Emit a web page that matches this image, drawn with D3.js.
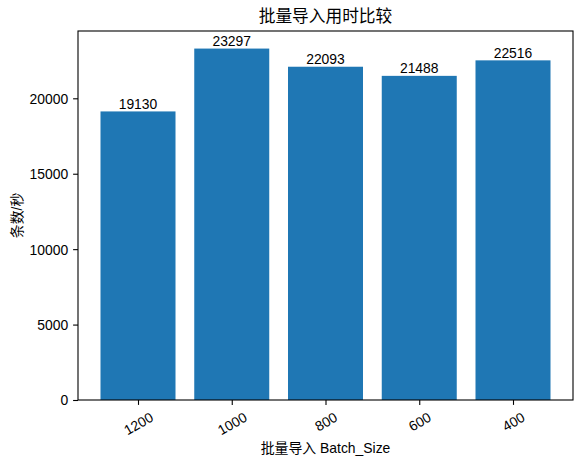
<!DOCTYPE html>
<html><head><meta charset="utf-8">
<script src="https://cdn.jsdelivr.net/npm/d3@7"></script>
<style>body{margin:0;background:#fff}svg{display:block}text{font-family:"Liberation Sans","Noto Sans CJK SC",sans-serif;fill:#000}</style>
</head><body><svg id="c" width="584" height="465"></svg>
<script>
const categories = ["1200","1000","800","600","400"];
const values = [19130,23297,22093,21488,22516];
const yTicks = [0,5000,10000,15000,20000];
const title = "批量导入用时比较";
const xTitle = "批量导入 Batch_Size";
const yTitle = "条数/秒";

const svg = d3.select("#c");
const L = 78, R = 573, T = 31, B = 400;
const fs = 13.9;
const x = d3.scaleLinear().domain([-0.64, 4.64]).range([L, R]);
const y = d3.scaleLinear().domain([0, d3.max(values) * 1.05]).range([B, T]);
const bw = 0.8;

svg.selectAll("rect.bar").data(values).join("rect").attr("class","bar")
  .attr("x",(d,i)=>x(i-bw/2)).attr("width",(d,i)=>x(i+bw/2)-x(i-bw/2))
  .attr("y",d=>y(d)).attr("height",d=>B-y(d)).attr("fill","#1f77b4");

svg.selectAll("text.val").data(values).join("text").attr("class","val")
  .attr("x",(d,i)=>x(i)).attr("y",d=>y(d)-2.5).attr("text-anchor","middle")
  .attr("font-size",fs).text(d=>d);

// frame
svg.append("rect").attr("x",L).attr("y",T).attr("width",R-L).attr("height",B-T)
  .attr("fill","none").attr("stroke","#000").attr("stroke-width",1.1);

// y axis
const yAxis = d3.axisLeft(y).tickValues(yTicks).tickSize(4.9).tickPadding(4.9).tickFormat(d3.format("d"));
const gy = svg.append("g").attr("transform",`translate(${L},0)`).call(yAxis);
gy.select(".domain").remove();
gy.selectAll("line").attr("stroke","#000").attr("stroke-width",1.1);
gy.selectAll("text").attr("font-size",fs).attr("font-family",null).attr("dy","0.35em");

// x axis
const xAxis = d3.axisBottom(x).tickValues(d3.range(categories.length)).tickSize(4.9).tickFormat(i=>categories[i]);
const gx = svg.append("g").attr("transform",`translate(0,${B})`).call(xAxis);
gx.select(".domain").remove();
gx.selectAll("line").attr("stroke","#000").attr("stroke-width",1.1);
gx.selectAll("text").attr("font-size",fs).attr("font-family",null).each(function(){
  const t = d3.select(this);
  t.attr("y",0).attr("dy",null).attr("text-anchor","middle").attr("dominant-baseline","central");
  const w = this.getComputedTextLength();
  const h = fs;
  const a = 30*Math.PI/180;
  const bh = w*Math.sin(a) + h*Math.cos(a);
  const cy = 4.9 + 4.9 + bh/2;
  t.attr("transform",`translate(0,${cy}) rotate(-30)`);
});

svg.append("text").attr("x",(L+R)/2).attr("y",22).attr("text-anchor","middle")
  .attr("font-size",16.7).text(title);
svg.append("text").attr("x",(L+R)/2).attr("y",453).attr("text-anchor","middle")
  .attr("font-size",fs).text(xTitle);
svg.append("text").attr("transform",`translate(22,${(T+B)/2}) rotate(-90)`).attr("text-anchor","middle")
  .attr("font-size",fs).text(yTitle);
</script></body></html>
